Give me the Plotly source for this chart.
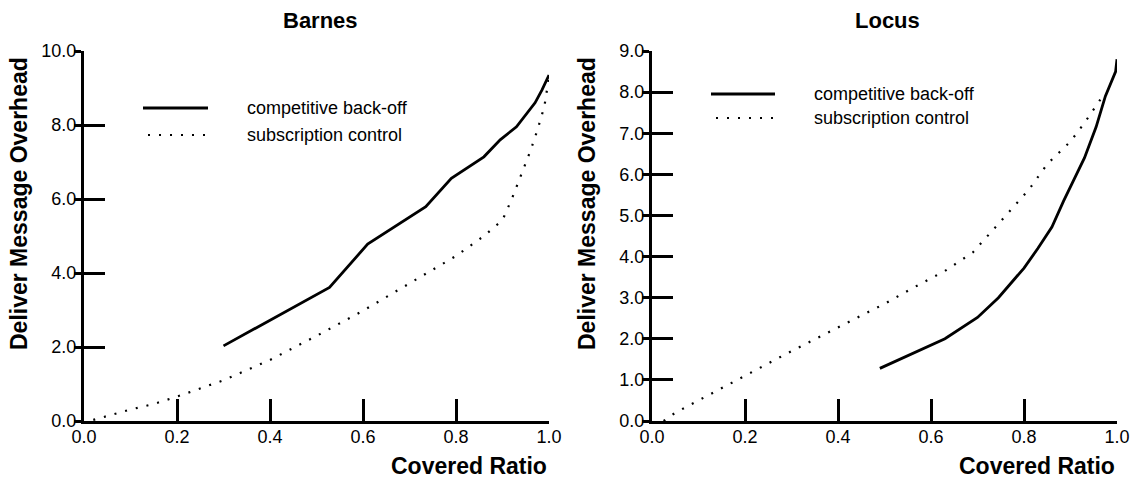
import plotly.graph_objects as go

# ---- data -------------------------------------------------------------
series_names = ["competitive back-off", "subscription control"]

barnes_backoff_x = [0.30, 0.528, 0.61, 0.735, 0.79, 0.86, 0.895, 0.93, 0.97, 0.985, 1.0]
barnes_backoff_y = [2.03, 3.61, 4.78, 5.79, 6.56, 7.14, 7.60, 7.95, 8.60, 8.95, 9.35]

barnes_sub_x = [0.02, 0.10, 0.15, 0.20, 0.30, 0.40, 0.50, 0.60, 0.70, 0.80, 0.86,
                0.90, 0.92, 0.94, 0.96, 0.975, 0.99, 1.0]
barnes_sub_y = [0.03, 0.31, 0.46, 0.66, 1.10, 1.65, 2.30, 2.98, 3.72, 4.46, 5.00,
                5.43, 6.00, 6.65, 7.30, 7.86, 8.50, 9.30]

locus_backoff_x = [0.49, 0.63, 0.70, 0.745, 0.80, 0.83, 0.86, 0.885, 0.93, 0.955,
                   0.975, 0.99, 0.997, 1.0]
locus_backoff_y = [1.28, 2.00, 2.52, 3.00, 3.72, 4.20, 4.72, 5.35, 6.40, 7.15,
                   7.90, 8.30, 8.50, 8.80]

locus_sub_x = [0.025, 0.05, 0.10, 0.20, 0.30, 0.43, 0.50, 0.56, 0.63, 0.69, 0.73,
               0.76, 0.81, 0.85, 0.90, 0.93, 0.955, 0.975]
locus_sub_y = [0.00, 0.20, 0.50, 1.10, 1.70, 2.45, 2.85, 3.23, 3.65, 4.10, 4.60,
               4.97, 5.62, 6.25, 6.80, 7.25, 7.66, 8.00]

x_ticks = [0.0, 0.2, 0.4, 0.6, 0.8, 1.0]
barnes_y_ticks = [0.0, 2.0, 4.0, 6.0, 8.0, 10.0]
locus_y_ticks = [0.0, 1.0, 2.0, 3.0, 4.0, 5.0, 6.0, 7.0, 8.0, 9.0]

panel_titles = ["Barnes", "Locus"]
x_title = "Covered Ratio"
y_title = "Deliver Message Overhead"

# ---- layout constants (pixels) ---------------------------------------
W, H = 1139, 481
FONT = "Liberation Sans, Arial, sans-serif"
DOT = "2px,9px"


def px(x):
    return x / W


def py(y):
    return 1 - y / H


panels = [
    dict(x0=84, x1=549, yt=barnes_y_ticks, ymax=10.0,
         data=[(barnes_backoff_x, barnes_backoff_y), (barnes_sub_x, barnes_sub_y)],
         title_x=320, ytitle_x=18.5,
         leg=dict(x0=143, x1=208, xd0=148, ty=245, y1=108, y2=135)),
    dict(x0=652, x1=1117, yt=locus_y_ticks, ymax=9.0,
         data=[(locus_backoff_x, locus_backoff_y), (locus_sub_x, locus_sub_y)],
         title_x=887.5, ytitle_x=586.5,
         leg=dict(x0=711, x1=775, xd0=716, ty=812, y1=94, y2=118)),
]

TOP, BOTTOM = 51, 421

fig = go.Figure()
layout = dict(
    width=W, height=H,
    margin=dict(l=0, r=0, t=0, b=0, autoexpand=False),
    paper_bgcolor="white", plot_bgcolor="white",
    showlegend=False,
    font=dict(family=FONT, color="black", size=18),
)
annotations = []
shapes = []

for i, p in enumerate(panels):
    xa = "x" if i == 0 else "x2"
    ya = "y" if i == 0 else "y2"
    xkey = "xaxis" if i == 0 else "xaxis2"
    ykey = "yaxis" if i == 0 else "yaxis2"
    ykey_in = "yaxis3" if i == 0 else "yaxis4"
    ya_in = "y3" if i == 0 else "y4"
    dom_x = [px(p["x0"]), px(p["x1"])]
    dom_y = [py(BOTTOM), py(TOP)]

    (bx, by), (sx, sy) = p["data"]
    fig.add_trace(go.Scatter(x=bx, y=by, mode="lines", name=series_names[0],
                             line=dict(color="black", width=2.8),
                             xaxis=xa, yaxis=ya))
    fig.add_trace(go.Scatter(x=sx, y=sy, mode="lines", name=series_names[1],
                             line=dict(color="black", width=2.2, dash=DOT),
                             xaxis=xa, yaxis=ya))

    layout[xkey] = dict(
        domain=dom_x, range=[0, 1], anchor=ya, automargin=False,
        tickmode="array", tickvals=x_ticks,
        ticktext=[f"{v:.1f}" for v in x_ticks],
        ticks="inside", ticklen=22, tickwidth=2.5, tickcolor="black",
        ticklabelstandoff=-3,
        showline=True, linecolor="black", linewidth=3,
        showgrid=False, zeroline=False,
        tickfont=dict(size=18, family=FONT, color="black"),
    )
    layout[ykey] = dict(
        domain=dom_y, range=[0, p["ymax"]], anchor=xa, automargin=False,
        tickmode="array", tickvals=p["yt"],
        ticktext=[f"{v:.1f}" for v in p["yt"]],
        ticks="outside", ticklen=7, tickwidth=2.5, tickcolor="black",
        ticklabelstandoff=-6,
        showline=True, linecolor="black", linewidth=3,
        showgrid=False, zeroline=False,
        tickfont=dict(size=18, family=FONT, color="black"),
    )
    # inward part of the y ticks
    layout[ykey_in] = dict(
        range=[0, p["ymax"]], anchor=xa, overlaying=ya, automargin=False,
        tickmode="array", tickvals=p["yt"],
        ticks="inside", ticklen=21, tickwidth=2.5, tickcolor="black",
        showticklabels=False, showline=False,
        showgrid=False, zeroline=False,
    )
    # empty trace so the overlaid axis is drawn
    fig.add_trace(go.Scatter(x=[None], y=[None], xaxis=xa, yaxis=ya_in,
                             hoverinfo="skip"))

    # panel title
    annotations.append(dict(
        text=f"<b>{panel_titles[i]}</b>", x=px(p["title_x"]), y=py(20),
        xref="paper", yref="paper", xanchor="center", yanchor="middle",
        showarrow=False, font=dict(size=22, family=FONT, color="black")))
    # axis titles
    annotations.append(dict(
        text=f"<b>{x_title}</b>", x=px(p["x1"]), y=py(466),
        xref="paper", yref="paper", xanchor="right", yanchor="middle",
        showarrow=False, font=dict(size=23, family=FONT, color="black")))
    annotations.append(dict(
        text=f"<b>{y_title}</b>", x=px(p["ytitle_x"]), y=py(203.5),
        xref="paper", yref="paper", xanchor="center", yanchor="middle",
        textangle=-90, showarrow=False,
        font=dict(size=23, family=FONT, color="black")))

    # legend
    lg = p["leg"]
    shapes.append(dict(type="line", xref="paper", yref="paper",
                       x0=px(lg["x0"]), x1=px(lg["x1"]), y0=py(lg["y1"]), y1=py(lg["y1"]),
                       line=dict(color="black", width=2.8)))
    shapes.append(dict(type="line", xref="paper", yref="paper",
                       x0=px(lg["xd0"]), x1=px(lg["x1"]), y0=py(lg["y2"]), y1=py(lg["y2"]),
                       line=dict(color="black", width=2.2, dash=DOT)))
    for name, yy in zip(series_names, [lg["y1"], lg["y2"]]):
        annotations.append(dict(
            text=name, x=px(lg["ty"]), y=py(yy),
            xref="paper", yref="paper", xanchor="left", yanchor="middle",
            showarrow=False, font=dict(size=18, family=FONT, color="black")))

layout["annotations"] = annotations
layout["shapes"] = shapes
fig.update_layout(**layout)

fig.write_html("out.html")
